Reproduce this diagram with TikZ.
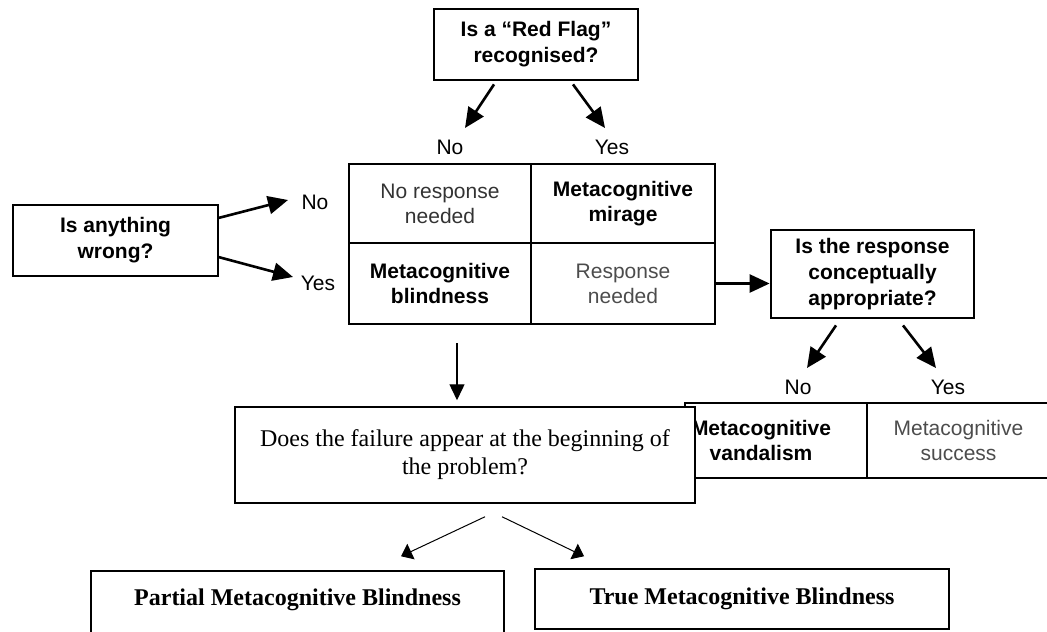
\documentclass[tikz,border=0pt]{standalone}
\usepackage{fontspec}
\setmainfont{Liberation Serif}
\setsansfont{Liberation Sans}
\usepackage{tikz}
\usetikzlibrary{positioning,arrows.meta,calc}

\tikzset{
  qbox/.style={draw, line width=1.4pt, align=center, inner sep=0pt,
    font=\sffamily\bfseries\fontsize{10.5}{13}\selectfont},
  cell/.style={draw, line width=1pt, align=center, inner sep=0pt, outer sep=0pt,
    font=\sffamily\fontsize{10.5}{12.5}\selectfont},
  tbox/.style={draw, line width=0.75pt, fill=white, align=center, inner sep=0pt,
    font=\fontsize{12}{14}\selectfont},
  lab/.style={font=\sffamily\fontsize{10.5}{12}\selectfont},
  bigarrow/.style={-{Triangle[length=10pt,width=9pt]}, line width=1.3pt},
  thinarrow/.style={-{Triangle[length=5.5pt,width=8.5pt]}, line width=0.5pt}
}

\begin{document}
\begin{tikzpicture}[x=0.5pt, y=-0.5pt]
\useasboundingbox (0,0) rectangle (1047,631);
\clip (0,0) rectangle (1047,631);

% Nodes
\node[qbox, minimum width=102pt, minimum height=35.5pt] (redflag) at (536,44.5) {Is a “Red Flag”\\recognised?};
\node[qbox, minimum width=102.5pt, minimum height=35.5pt] (wrong) at (115.5,240.5) {Is anything\\wrong?};

\node[lab] (noA) at (450,147) {No};
\node[lab] (yesA) at (612,147) {Yes};
\node[lab] (noB) at (315,202) {No};
\node[lab] (yesB) at (318,283) {Yes};

\node[cell, text=black!80, minimum width=91pt, minimum height=39.5pt] (noneed) at (440,203.5) {No response\\needed};
\node[cell, font=\sffamily\bfseries\fontsize{10.5}{12.5}\selectfont, minimum width=92pt, minimum height=39.5pt, right=0pt of noneed] (mirage) {Metacognitive\\mirage};
\node[cell, font=\sffamily\bfseries\fontsize{10.5}{12.5}\selectfont, minimum width=91pt, minimum height=40.5pt, below=0pt of noneed] (blind) {Metacognitive\\blindness};
\node[cell, text=black!70, minimum width=92pt, minimum height=40.5pt, right=0pt of blind] (need) {Response\\needed};

\node[qbox, minimum width=101.5pt, minimum height=44pt] (resp) at (872.5,274) {Is the response\\conceptually\\appropriate?};

\node[lab] (noC) at (798,387) {No};
\node[lab] (yesC) at (948,387) {Yes};

% table partly hidden under the box below
\node[cell, line width=0.9pt, font=\sffamily\bfseries\fontsize{10.5}{12.5}\selectfont, minimum width=91pt, minimum height=37.5pt] (vand) at (776,440.5) {\hspace*{-15pt}Metacognitive\\\hspace*{-15pt}vandalism};
\node[cell, line width=0.9pt, text=black!70, minimum width=91.5pt, minimum height=37.5pt, right=0pt of vand] (succ) {Metacognitive\\success};

\node[tbox, minimum width=230pt, minimum height=48pt] (does) at (465,455) {Does the failure appear at the beginning of\\the problem?};

\node[tbox, font=\bfseries\fontsize{12}{14}\selectfont, minimum width=206.5pt, minimum height=37pt, text height=8pt, text depth=11pt] (partial) at (297.5,608) {Partial Metacognitive Blindness};
\node[tbox, font=\bfseries\fontsize{12}{14}\selectfont, minimum width=207pt, minimum height=30pt] (true) at (742,599) {True Metacognitive Blindness};

% Arrows
\draw[bigarrow] ($(redflag.south)+(-42,3)$) -- ($(noA)+(15,-19)$);
\draw[bigarrow] ($(redflag.south)+(37,3)$) -- ($(yesA)+(-7,-19)$);
\draw[bigarrow] ($(wrong.east)+(-1,-22.5)$) -- ($(noB)+(-27,-2)$);
\draw[bigarrow] ($(wrong.east)+(-1,16.5)$) -- ($(yesB)+(-25,-6)$);
\draw[bigarrow] (need.east) -- (need.east -| resp.west);
\draw[bigarrow] ($(resp.south)+(-36.5,6)$) -- ($(noC)+(9,-19)$);
\draw[bigarrow] ($(resp.south)+(30.5,6)$) -- ($(yesC)+(-12,-19)$);

\draw[-{Triangle[length=8pt,width=7.5pt]}, line width=0.7pt] ($(blind.south)+(17,19)$) -- ($(does.north)+(-8,-6)$);
\draw[thinarrow] ($(does.south)+(20,13)$) -- ($(partial.north)+(103.5,-14)$);
\draw[thinarrow] ($(does.south)+(37,13)$) -- ($(true.north)+(-158,-12)$);

\end{tikzpicture}
\end{document}
